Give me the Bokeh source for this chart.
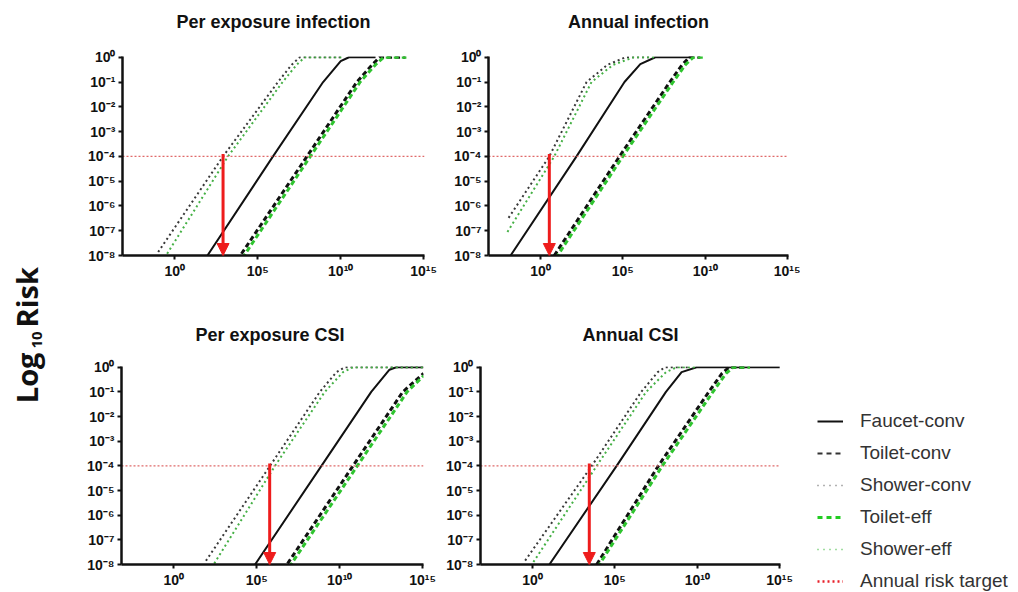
import math
from bokeh.plotting import figure
from bokeh.models import (Range1d, FixedTicker, CustomJSTickFormatter, Arrow, NormalHead,
                          Legend, LegendItem, Label, ColumnDataSource)
from bokeh.layouts import row, column
from bokeh.embed import file_html
from bokeh.resources import INLINE

# ---------------- data (log10 exponents) ----------------
panel_titles = ["Per exposure infection", "Annual infection", "Per exposure  CSI", "Annual CSI"]
series_names = ["Faucet-conv", "Toilet-conv", "Shower-conv", "Toilet-eff", "Shower-eff"]
target_name = "Annual risk target"
risk_target = 1e-4

x_ticks = [1e0, 1e5, 1e10, 1e15]
x_tick_labels = ["10\u2070", "10\u2075", "10\u00b9\u2070", "10\u00b9\u2075"]
y_ticks = [1e-8, 1e-7, 1e-6, 1e-5, 1e-4, 1e-3, 1e-2, 1e-1, 1e0]
y_tick_labels = ["10\u207b\u2078", "10\u207b\u2077", "10\u207b\u2076", "10\u207b\u2075", "10\u207b\u2074",
                 "10\u207b\u00b3", "10\u207b\u00b2", "10\u207b\u00b9", "10\u2070"]

# Per exposure infection
pei_faucet_x = [1.97, 5.92, 8.94, 10.0, 10.5, 12.1]
pei_faucet_y = [-8, -4, -1, -0.16, 0, 0]
pei_toilet_conv_x = [4.02, 7.97, 10.97, 11.9, 12.35, 13.9]
pei_toilet_conv_y = [-7.93, -4, -1, -0.3, 0, 0]
pei_shower_conv_x = [-1.0, 2.91, 6.22, 7.05, 7.53, 10.1]
pei_shower_conv_y = [-7.86, -4, -1, -0.3, 0, 0]
pei_toilet_eff_x = [4.18, 8.17, 11.17, 12.1, 12.59, 13.96]
pei_toilet_eff_y = [-8, -4, -1, -0.3, 0, 0]
pei_shower_eff_x = [-0.46, 3.21, 6.5, 7.35, 7.83, 10.1]
pei_shower_eff_y = [-7.93, -4, -1, -0.3, 0, 0]

# Annual infection
ai_faucet_x = [-1.81, 2.19, 5.1, 6.06, 6.97, 9.28]
ai_faucet_y = [-8, -4, -1, -0.28, 0, 0]
ai_toilet_conv_x = [0.84, 4.8, 7.85, 8.6, 9.04, 9.7]
ai_toilet_conv_y = [-8, -4, -1, -0.3, 0, 0]
ai_shower_conv_x = [-1.93, 0.54, 2.8, 4.06, 5.16, 6.67]
ai_shower_conv_y = [-6.48, -4, -1, -0.31, 0, 0]
ai_toilet_eff_x = [1.04, 5.0, 8.05, 8.8, 9.28, 9.98]
ai_toilet_eff_y = [-8, -4, -1, -0.3, 0, 0]
ai_shower_eff_x = [-2.0, 0.84, 3.1, 4.4, 5.66, 6.9]
ai_shower_eff_y = [-7.05, -4, -1, -0.31, 0, 0]

# Per exposure CSI
pec_faucet_x = [4.9, 8.9, 11.9, 13.0, 13.4, 15.05]
pec_faucet_y = [-8, -4, -1, -0.1, 0, 0]
pec_toilet_conv_x = [6.86, 10.8, 13.8, 15.05]
pec_toilet_conv_y = [-7.96, -4, -1, -0.25]
pec_shower_conv_x = [1.94, 5.8, 8.8, 9.8, 10.3, 15.05]
pec_shower_conv_y = [-7.85, -4, -1, -0.2, 0, 0]
pec_toilet_eff_x = [7.06, 11.06, 14.06, 15.05]
pec_toilet_eff_y = [-8, -4, -1, -0.35]
pec_shower_eff_x = [2.44, 6.1, 9.1, 10.2, 10.8, 15.05]
pec_shower_eff_y = [-7.96, -4, -1, -0.2, 0, 0]

# Annual CSI
ac_faucet_x = [1.03, 5.11, 8.1, 9.05, 9.96, 15.0]
ac_faucet_y = [-8, -4, -1, -0.2, 0, 0]
ac_toilet_conv_x = [3.9, 7.64, 10.7, 11.5, 11.94, 13.0]
ac_toilet_conv_y = [-8, -4, -1, -0.25, 0, 0]
ac_shower_conv_x = [-0.44, 3.6, 6.6, 7.6, 8.04, 9.5]
ac_shower_conv_y = [-7.84, -4, -1, -0.2, 0, 0]
ac_toilet_eff_x = [4.06, 7.88, 10.95, 11.75, 12.18, 13.2]
ac_toilet_eff_y = [-8, -4, -1, -0.25, 0, 0]
ac_shower_eff_x = [0.06, 3.9, 6.9, 8.1, 8.75, 10.0]
ac_shower_eff_y = [-7.9, -4, -1, -0.2, 0, 0]

# x position (log10) of the red arrow in each panel
arrow_x = [2.91, 0.54, 5.78, 3.45]

x_lo_exp, x_hi_exp = -3.15, 15.05
y_lo_exp, y_hi_exp = -8.0, 0.03

panels_data = [
    [(pei_faucet_x, pei_faucet_y), (pei_toilet_conv_x, pei_toilet_conv_y), (pei_shower_conv_x, pei_shower_conv_y),
     (pei_toilet_eff_x, pei_toilet_eff_y), (pei_shower_eff_x, pei_shower_eff_y)],
    [(ai_faucet_x, ai_faucet_y), (ai_toilet_conv_x, ai_toilet_conv_y), (ai_shower_conv_x, ai_shower_conv_y),
     (ai_toilet_eff_x, ai_toilet_eff_y), (ai_shower_eff_x, ai_shower_eff_y)],
    [(pec_faucet_x, pec_faucet_y), (pec_toilet_conv_x, pec_toilet_conv_y), (pec_shower_conv_x, pec_shower_conv_y),
     (pec_toilet_eff_x, pec_toilet_eff_y), (pec_shower_eff_x, pec_shower_eff_y)],
    [(ac_faucet_x, ac_faucet_y), (ac_toilet_conv_x, ac_toilet_conv_y), (ac_shower_conv_x, ac_shower_conv_y),
     (ac_toilet_eff_x, ac_toilet_eff_y), (ac_shower_eff_x, ac_shower_eff_y)],
]

# ---------------- styles ----------------
styles = [
    dict(line_color="#111111", line_width=2.0, line_dash="solid"),
    dict(line_color="#111111", line_width=3.0, line_dash="5 3"),
    dict(line_color="#383838", line_width=2.0, line_dash="2 3"),
    dict(line_color="#2fc42f", line_width=3.0, line_dash="5 3", line_dash_offset=3),
    dict(line_color="#45b045", line_width=2.0, line_dash="2 3"),
]
target_style = dict(line_color="#e06a6a", line_width=1.2, line_dash="2 2")
FONT = "Liberation Sans"


def blank(width, height):
    f = figure(width=width, height=height, x_range=Range1d(0, 1), y_range=Range1d(0, 1),
               output_backend="svg", toolbar_location=None,
               min_border_left=0, min_border_right=0, min_border_top=0, min_border_bottom=0)
    f.axis.visible = False
    f.grid.visible = False
    f.outline_line_color = None
    return f


def title_strip(idx, width, height, frame_cx, baseline_up):
    f = blank(width, height)
    f.add_layout(Label(x=frame_cx, y=baseline_up, x_units="screen", y_units="screen",
                       text=panel_titles[idx], text_align="center", text_baseline="alphabetic",
                       text_font=FONT, text_font_size="18px", text_font_style="bold",
                       text_color="#111111"))
    return f


def src(xs, ys):
    return ColumnDataSource(dict(x=[10 ** v for v in xs], y=[10 ** v for v in ys]))


def fmt(vals, labs):
    return CustomJSTickFormatter(args=dict(vals=vals, labs=labs), code="""
        for (let i = 0; i < vals.length; i++) {
            if (Math.abs(Math.log10(vals[i]) - Math.log10(tick)) < 1e-6) return labs[i];
        }
        return '';
    """)


def make_panel(idx, width, height, bl, br, bt, bb):
    p = figure(width=width, height=height, x_axis_type="log", y_axis_type="log",
               x_range=Range1d(10 ** x_lo_exp, 10 ** x_hi_exp),
               y_range=Range1d(10 ** y_lo_exp, 10 ** y_hi_exp),
               output_backend="svg", toolbar_location=None,
               min_border_left=bl, min_border_right=br, min_border_top=bt, min_border_bottom=bb)
    p.outline_line_color = None
    p.grid.visible = False
    for ax, ticks, labs in ((p.xaxis[0], x_ticks, x_tick_labels), (p.yaxis[0], y_ticks, y_tick_labels)):
        ax.ticker = FixedTicker(ticks=ticks, minor_ticks=[])
        ax.formatter = fmt(ticks, labs)
        ax.axis_line_width = 2.5
        ax.axis_line_color = "#111111"
        ax.major_tick_line_width = 2
        ax.major_tick_line_color = "#111111"
        ax.major_tick_in = 0
        ax.major_tick_out = 4
        ax.minor_tick_line_color = None
        ax.major_label_text_font = FONT
        ax.major_label_text_font_style = "bold"
        ax.major_label_text_font_size = "14px"
        ax.major_label_text_color = "#111111"
        ax.major_label_standoff = 3
    for (xs, ys), st in zip(panels_data[idx], styles):
        p.line("x", "y", source=src(xs, ys), **st)
    p.line(x=[10 ** x_lo_exp, 10 ** x_hi_exp], y=[risk_target, risk_target], **target_style)
    ax_x = 10 ** arrow_x[idx]
    p.add_layout(Arrow(end=NormalHead(size=12, fill_color="#ee1c1c", line_color="#ee1c1c"),
                       x_start=ax_x, y_start=risk_target * 1.25, x_end=ax_x, y_end=10 ** y_lo_exp,
                       line_color="#ee1c1c", line_width=3))
    return p


tl_t = title_strip(0, 380, 40, 62 + 151, 19)
tr_t = title_strip(1, 360, 40, 48 + 150, 19)
bl_t = title_strip(2, 380, 40, 61 + 151, 16)
br_t = title_strip(3, 360, 40, 40 + 150, 16)

tl = make_panel(0, 380, 270, 62, 16, 16, 55)
tr = make_panel(1, 360, 270, 48, 12, 16, 55)
bl = make_panel(2, 380, 242, 61, 17, 16, 28)
br = make_panel(3, 360, 242, 40, 20, 16, 28)

# ---------------- y label ----------------
ylab = blank(60, 592)
ylab.add_layout(Label(x=26, y=592 - 352, x_units="screen", y_units="screen", text="Log",
                      angle=math.pi / 2, text_align="right", text_baseline="middle",
                      text_font="Open Sans", text_font_style="bold", text_font_size="29px",
                      text_color="#111111"))
ylab.add_layout(Label(x=36, y=592 - 348, x_units="screen", y_units="screen", text="10",
                      angle=math.pi / 2, text_align="left", text_baseline="middle",
                      text_font="Open Sans", text_font_style="bold", text_font_size="15px",
                      text_color="#111111"))
ylab.add_layout(Label(x=26, y=592 - 327, x_units="screen", y_units="screen", text="Risk",
                      angle=math.pi / 2, text_align="left", text_baseline="middle",
                      text_font="Open Sans", text_font_style="bold", text_font_size="29px",
                      text_color="#111111"))

# ---------------- legend ----------------
leg = figure(width=218, height=592, x_range=Range1d(-2, -1), y_range=Range1d(-2, -1),
             output_backend="svg", toolbar_location=None,
             min_border_left=0, min_border_right=0, min_border_top=0, min_border_bottom=0)
leg.axis.visible = False
leg.grid.visible = False
leg.outline_line_color = None
leg_styles = [
    dict(line_color="#111111", line_width=2.0, line_dash="solid"),
    dict(line_color="#333333", line_width=2.0, line_dash="5 4"),
    dict(line_color="#666666", line_width=1.5, line_dash="1 5"),
    dict(line_color="#22cc22", line_width=3.0, line_dash="5 4"),
    dict(line_color="#44bb44", line_width=1.5, line_dash="1 5"),
]
items = []
for name, (xs, ys), st in zip(series_names, panels_data[3], leg_styles):
    r = leg.line("x", "y", source=src(xs, ys), **st)
    items.append(LegendItem(label=name, renderers=[r]))
rt = leg.line(x=[10 ** x_lo_exp, 10 ** x_hi_exp], y=[risk_target, risk_target],
              line_color="#e8202a", line_width=2.5, line_dash="2 3")
items.append(LegendItem(label=target_name, renderers=[rt]))
legend = Legend(items=items, location=(17, 0), border_line_color=None, background_fill_alpha=0,
                padding=0, margin=0, spacing=10, glyph_width=26, glyph_height=20, label_height=20,
                label_standoff=17, label_text_font=FONT, label_text_font_size="19px",
                label_text_color="#333333")
leg.add_layout(legend)

layout = row(ylab,
             column(row(tl_t, tr_t), row(tl, tr), row(bl_t, br_t), row(bl, br)),
             leg)

with open("out.html", "w") as f:
    f.write(file_html(layout, INLINE))
